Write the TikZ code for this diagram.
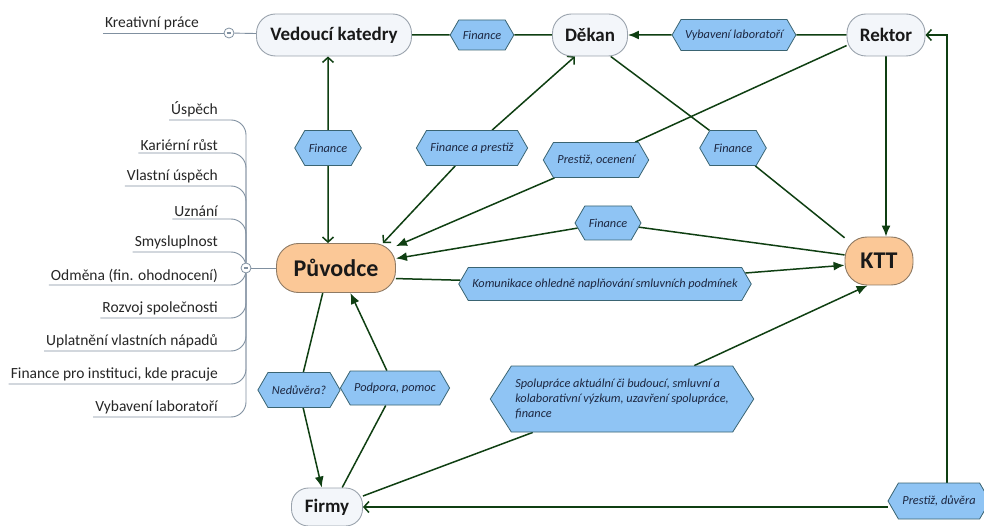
\documentclass[tikz,border=0pt]{standalone}
\usepackage{fontspec}
\setmainfont{Carlito}
\usetikzlibrary{shapes.symbols,arrows.meta,calc,backgrounds}
\definecolor{conn}{HTML}{0F3F12}
\definecolor{wfill}{HTML}{F3F6FA}
\definecolor{wborder}{HTML}{9AA3AD}
\definecolor{ofill}{HTML}{FBC897}
\definecolor{oborder}{HTML}{8E7A64}
\definecolor{lfill}{HTML}{8FC4F4}
\definecolor{lborder}{HTML}{3A6472}
\definecolor{mmcol}{HTML}{8090A0}
\definecolor{ltext}{HTML}{1C2640}
\begin{document}
\begin{tikzpicture}[x=1pt,y=-1pt,
  wnode/.style={draw=wborder, fill=wfill, rounded corners=19pt, line width=0.9pt,
    font=\fontsize{19}{22}\selectfont\bfseries, minimum height=42pt, inner sep=2pt, text=black!90},
  onode/.style={draw=oborder, fill=ofill, rounded corners=22pt, line width=0.9pt,
    font=\fontsize{24}{28}\selectfont\bfseries, minimum height=48pt, inner sep=2pt, text=black!90},
  lab/.style={shape=signal, signal to=west and east, signal pointer angle=120,
    draw=lborder, fill=lfill, line width=0.8pt, text=ltext,
    font=\fontsize{12.3}{14.8}\selectfont\itshape, minimum height=35pt, inner xsep=4pt, inner ysep=2pt},
  con/.style={draw=conn, line width=1.5pt},
  fa/.style={-{Latex[length=11pt,width=9pt]}},
  oa/.style={-{Straight Barb[length=5pt,width=11pt]}},
  mm/.style={draw=mmcol, line width=0.9pt},
  item/.style={font=\fontsize{15.5}{17}\selectfont, text=black!85, inner xsep=2pt, inner ysep=2.5pt},
  mmcirc/.style={circle, draw=mmcol, fill=white, line width=0.8pt, minimum size=10pt, inner sep=0pt,
    path picture={\draw[mmcol, line width=1.1pt] ([xshift=2.6pt]path picture bounding box.west) -- ([xshift=-2.6pt]path picture bounding box.east);}}
]
\useasboundingbox (0,0) rectangle (984,526);

% main nodes
\node[wnode, minimum width=155pt] (ved) at (334,35) {Vedoucí katedry};
\node[wnode, minimum width=75pt] (dek) at (590,35) {Děkan};
\node[wnode, minimum width=78pt] (rek) at (886,35) {Rektor};
\node[onode, minimum width=119pt, minimum height=49pt] (puv) at (336,268) {Původce};
\node[onode, minimum width=68pt] (ktt) at (879,261) {KTT};
\node[wnode, minimum width=71pt, minimum height=38pt, rounded corners=17pt] (fir) at (327,507) {Firmy};

% labels
\node[lab, minimum width=61pt, minimum height=30pt] (lf1) at (482,35) {Finance};
\node[lab, minimum width=112pt, minimum height=31pt] (lvyb) at (734,35) {Vybavení laboratoří};
\node[lab, minimum width=60pt] (lf2) at (328,148) {Finance};
\node[lab, minimum width=104pt] (lfap) at (472,148) {Finance a prestiž};
\node[lab, minimum width=99pt] (lpo) at (596,160) {Prestiž, ocenení};
\node[lab, minimum width=60pt] (lf3) at (733,148) {Finance};
\node[lab, minimum width=61pt, minimum height=34pt] (lf4) at (608,223) {Finance};
\node[lab, minimum width=285pt, minimum height=33pt] (lkom) at (605,284) {Komunikace ohledně naplňování smluvních podmínek};
\node[lab, minimum width=75pt] (lned) at (299,390) {Nedůvěra?};
\node[lab, minimum width=102pt, minimum height=34pt] (lpod) at (395,388) {Podpora, pomoc};
\node[lab, minimum width=251pt, minimum height=66pt, align=left, signal pointer angle=115] (lspo) at (622,399)
  {Spolupráce aktuální či budoucí, smluvní a\\kolaborativní výzkum, uzavření spolupráce,\\finance};
\node[lab, minimum width=89pt, minimum height=36pt] (lpd) at (939,501) {Prestiž, důvěra};

% mind map left
\node[item, anchor=south east] (kr) at (201,33) {Kreativní práce};
\node[mmcirc] (c1) at (229,33) {};
\node[mmcirc] (c2) at (246,268) {};
\foreach \t [count=\i] in {Úspěch, Kariérní růst, Vlastní úspěch, Uznání, Smysluplnost,
  {Odměna (fin. ohodnocení)}, Rozvoj společnosti, Uplatnění vlastních nápadů,
  {Finance pro instituci, kde pracuje}, Vybavení laboratoří}{
  \node[item, anchor=south east] (it\i) at (220,{120+33*(\i-1)}) {\t};
}

\begin{scope}[on background layer]
\fill[white] (0,0) rectangle (984,526);
\draw[mm] (kr.south west) -- (c1);
\draw[mm] (c1) -- (ved);
\draw[mm] (c2) -- (puv);
\foreach \i in {1,...,10}{
  \draw[mm, rounded corners=15pt] (it\i.south west) -- (it\i.south west -| c2) -- (c2);
}

\draw[con] (ved) -- (lf1);
\draw[con] (lf1) -- (dek);
\draw[con] (rek) -- (lvyb);
\draw[con,fa] (lvyb) -- (dek);
\draw[con,oa] (lf2) -- (lf2 |- ved.south);
\draw[con,oa] (lf2) -- (lf2 |- puv.north);
\draw[con,oa] (lfap) -- (dek.235);
\draw[con,oa] (lfap) -- (puv.28);
\draw[con] (rek.195) -- (lpo);
\draw[con,fa] (lpo) -- (puv.20);
\draw[con] (dek.314) -- (lf3);
\draw[con] (lf3) -- (ktt.146);
\draw[con] (ktt.170) -- (lf4);
\draw[con,fa] (lf4) -- (puv.9);
\draw[con] (puv.-10) -- (lkom);
\draw[con,fa] (lkom) -- (ktt.187);
\draw[con,fa] (rek.south) -- (rek.south |- ktt.north);
\draw[con] (puv.242) -- (lned);
\draw[con,fa] (lned) -- (fir.105);
\draw[con] (fir.52) -- (lpod);
\draw[con,fa] (lpod) -- (puv.300);
\draw[con] (fir.17) -- (lspo);
\draw[con,fa] (lspo) -- (ktt.245);
\draw[con,oa] (fir.east -| lpd.west) -- (fir.east);
\draw[con,oa] ($(lpd.north)+(8,0)$) |- (rek.east);
\end{scope}
\end{tikzpicture}
\end{document}
